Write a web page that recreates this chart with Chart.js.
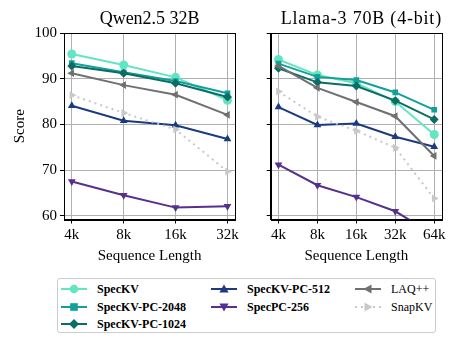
<!DOCTYPE html>
<html>
<head>
<meta charset="utf-8">
<script src="https://cdn.jsdelivr.net/npm/chart.js@4"></script>
<style>
  body { margin:0; background:#fff; width:457px; height:345px; position:relative; overflow:hidden; font-family:"Liberation Serif", serif; }
  canvas { position:absolute; top:0; }
  #left { left:0; }
  #right { left:248px; }
  #legend { position:absolute; left:57px; top:278px; width:379px; height:55px; border:1px solid #cccccc; border-radius:3px; box-sizing:border-box; }
  .item { position:absolute; font-size:12px; line-height:14px; color:#000; white-space:nowrap; }
  .item svg { position:absolute; left:0; top:1px; }
  .item span { position:absolute; left:36px; top:0; }
  .b { font-weight:bold; }
</style>
</head>
<body>
<canvas id="left" width="242" height="265"></canvas>
<canvas id="right" width="206" height="265"></canvas>
<div id="legend"></div>
<script>
const qwenLabels = ["4k", "8k", "16k", "32k"];
const llamaLabels = ["4k", "8k", "16k", "32k", "64k"];
const yTicks = [60, 70, 80, 90, 100];

const seriesNames = ["SpecKV", "SpecKV-PC-2048", "SpecKV-PC-1024", "SpecKV-PC-512", "SpecPC-256", "LAQ++", "SnapKV"];

const qwenSpecKV = [95.4, 93.0, 90.3, 85.3];
const qwenPC2048 = [93.4, 91.4, 89.5, 86.8];
const qwenPC1024 = [92.8, 91.2, 89.0, 86.0];
const qwenPC512 = [84.1, 80.8, 79.8, 76.8];
const qwenPC256 = [67.5, 64.5, 61.8, 62.1];
const qwenLAQ = [91.2, 88.6, 86.5, 82.1];
const qwenSnapKV = [86.4, 82.5, 78.9, 69.7];

const llamaSpecKV = [94.2, 90.8, 89.0, 85.0, 77.8];
const llamaPC2048 = [93.3, 90.4, 89.7, 87.0, 83.2];
const llamaPC1024 = [92.3, 89.2, 88.4, 85.2, 81.1];
const llamaPC512 = [83.8, 79.9, 80.2, 77.3, 75.1];
const llamaPC256 = [71.2, 66.7, 64.1, 61.0, 55.8];
const llamaLAQ = [92.8, 88.0, 84.9, 81.8, 73.1];
const llamaSnapKV = [87.2, 81.7, 78.6, 74.9, 63.8];

const styles = [
  { color:"#62e6c2", shape:"circle", rot:0 },
  { color:"#12a09a", shape:"rect", rot:0 },
  { color:"#0b6d66", shape:"rectRot", rot:0 },
  { color:"#1b3a80", shape:"triangle", rot:0 },
  { color:"#56308c", shape:"triangle", rot:180 },
  { color:"#707070", shape:"triangle", rot:270 },
  { color:"#c8c8c8", shape:"triangle", rot:90, dash:[2,4] }
];

function makeDatasets(lists){
  return lists.map((vals, i) => ({
    label: seriesNames[i],
    data: vals.map((v, j) => ({ x:j, y:v })),
    borderColor: styles[i].color,
    backgroundColor: styles[i].color,
    borderWidth: 2,
    borderDash: styles[i].dash || [],
    pointStyle: styles[i].shape,
    pointRotation: styles[i].rot,
    pointRadius: styles[i].shape === "rect" ? 4 : 4.5,
    pointBorderWidth: 0,
    order: 10 - i
  }));
}

// black box round the axes + panel title centred on the plot area
const framePlugin = {
  id: "frame",
  afterDraw(chart, args, opts){
    const a = chart.chartArea, c = chart.ctx;
    c.save();
    c.strokeStyle = "#000";
    c.lineWidth = 1;
    c.strokeRect(Math.round(a.left)+0.5, Math.round(a.top)+0.5, Math.round(a.right-a.left), Math.round(a.bottom-a.top));
    c.fillStyle = "#000";
    c.font = "18px 'Liberation Serif'";
    c.textAlign = "center";
    c.textBaseline = "alphabetic";
    if(opts.spacing) c.letterSpacing = opts.spacing + "px";
    c.fillText(opts.text, (a.left + a.right) / 2 + (opts.dx || 0), 23.5);
    c.restore();
  }
};

function buildPanel(id, title, labels, lists, showY, yWidth, padLeft, padRight, spacing, dx){
  const n = labels.length - 1;
  const m = n * 0.05;
  return new Chart(document.getElementById(id), {
    type: "line",
    data: { datasets: makeDatasets(lists) },
    options: {
      responsive: false,
      animation: false,
      layout: { padding: { left:padLeft, right:padRight, top:33, bottom:0 } },
      plugins: {
        legend: { display:false },
        tooltip: { enabled:false },
        title: { display:false },
        frame: { text:title, spacing, dx }
      },
      scales: {
        x: {
          type: "linear", min: -m, max: n + m,
          afterBuildTicks: s => { s.ticks = labels.map((_, i) => ({ value:i })); },
          afterFit: s => { s.height = 45.5; },
          ticks: { color:"#000", font:{ family:"Liberation Serif", size:15 }, padding:3, maxRotation:0,
                   callback: v => labels[v] },
          grid: { color:"#b0b0b0", lineWidth:1, tickColor:"#000", tickLength:4 },
          border: { color:"#000" },
          title: { display:true, text:"Sequence Length", color:"#000",
                   font:{ family:"Liberation Serif", size:15 }, padding:{ top:0, bottom:0 } }
        },
        y: {
          min: 59.2, max: 100,
          afterBuildTicks: s => { s.ticks = yTicks.map(v => ({ value:v })); },
          afterFit: s => { s.width = yWidth; },
          ticks: { display:showY, color:"#000", font:{ family:"Liberation Serif", size:15 }, padding:3 },
          grid: { color:"#b0b0b0", lineWidth:1, tickColor:"#000", tickLength:4 },
          border: { color:"#000" },
          title: { display:showY, text:"Score", color:"#000",
                   font:{ family:"Liberation Serif", size:15 }, padding:{ top:0, bottom:0 } }
        }
      }
    },
    plugins: [framePlugin]
  });
}

buildPanel("left", "Qwen2.5 32B", qwenLabels,
  [qwenSpecKV, qwenPC2048, qwenPC1024, qwenPC512, qwenPC256, qwenLAQ, qwenSnapKV], true, 53, 11, 6, 0, 0);
buildPanel("right", "Llama-3 70B (4-bit)", llamaLabels,
  [llamaSpecKV, llamaPC2048, llamaPC1024, llamaPC512, llamaPC256, llamaLAQ, llamaSnapKV], false, 22.7, 0, 12, 0.8, 5);

// legend (3 columns, matplotlib-style)
function markerSvg(i){
  const s = styles[i], c = s.color;
  let shape = "";
  if(s.shape === "circle") shape = `<circle cx="13" cy="6" r="4.3" fill="${c}"/>`;
  else if(s.shape === "rect") shape = `<rect x="9.2" y="2.2" width="7.6" height="7.6" fill="${c}"/>`;
  else if(s.shape === "rectRot") shape = `<polygon points="13,1 18,6 13,11 8,6" fill="${c}"/>`;
  else if(s.rot === 0) shape = `<polygon points="13,1.5 17.6,9.5 8.4,9.5" fill="${c}"/>`;
  else if(s.rot === 180) shape = `<polygon points="13,10.5 17.6,2.5 8.4,2.5" fill="${c}"/>`;
  else if(s.rot === 270) shape = `<polygon points="8.5,6 16.5,1.4 16.5,10.6" fill="${c}"/>`;
  else shape = `<polygon points="17.5,6 9.5,1.4 9.5,10.6" fill="${c}"/>`;
  const dash = s.dash ? ` stroke-dasharray="2,4"` : "";
  return `<svg width="27" height="12"><line x1="0" y1="6" x2="26" y2="6" stroke="${c}" stroke-width="2"${dash}/>${shape}</svg>`;
}
const legendCols = [[0, 1, 2], [3, 4], [5, 6]];
const colX = [3, 153, 297];
const legend = document.getElementById("legend");
legendCols.forEach((col, ci) => {
  col.forEach((idx, ri) => {
    const d = document.createElement("div");
    d.className = "item";
    d.style.left = colX[ci] + "px";
    d.style.top = (3 + ri * 17.5) + "px";
    const bold = idx < 5 ? "b" : "";
    d.innerHTML = markerSvg(idx) + `<span class="${bold}">${seriesNames[idx]}</span>`;
    legend.appendChild(d);
  });
});
</script>
</body>
</html>
